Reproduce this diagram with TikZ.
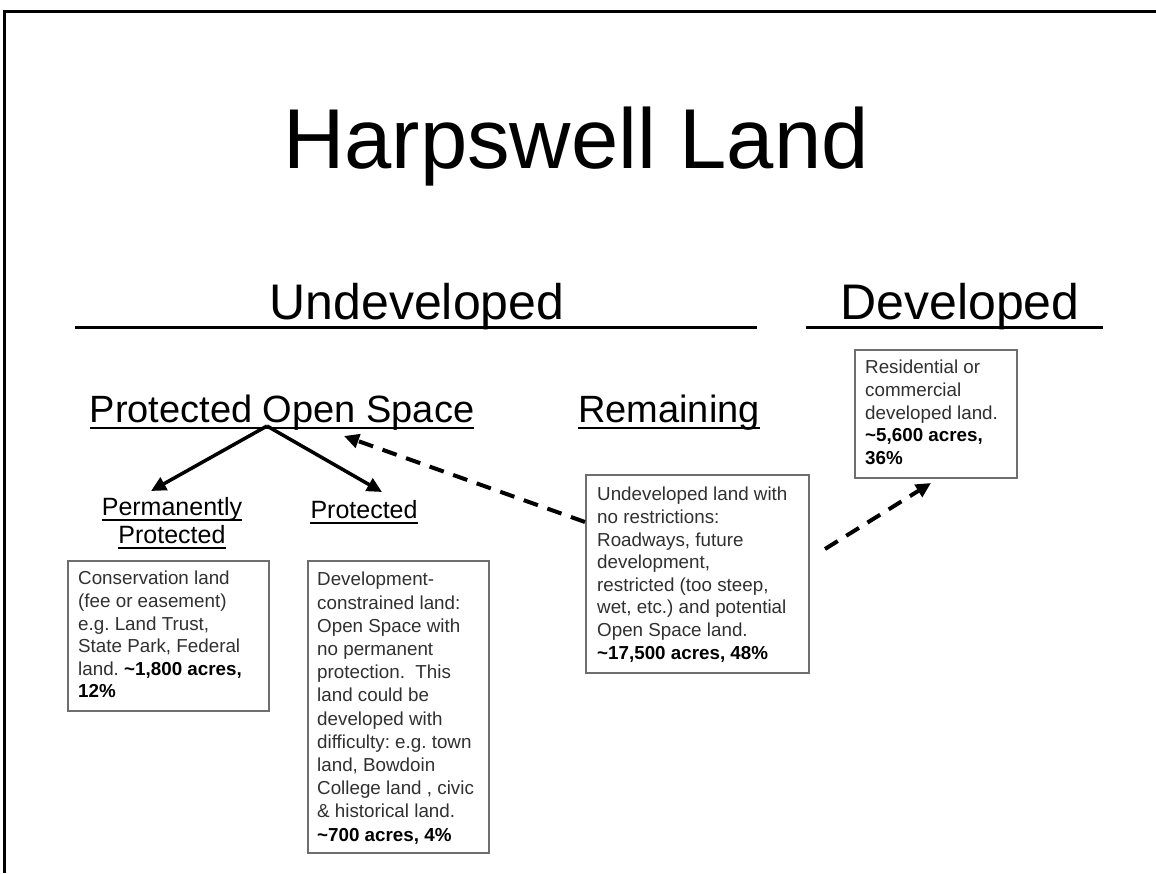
\documentclass[tikz,border=0pt]{standalone}
\usepackage{fontspec}
\setmainfont{Liberation Sans}
\usetikzlibrary{arrows.meta}
\definecolor{boxgray}{HTML}{6E6E6E}
\definecolor{txtgray}{HTML}{303030}
\tikzset{
  titletext/.style={inner sep=0pt, anchor=base, font=\fontsize{85}{90}\selectfont},
  bigtext/.style={inner sep=0pt, anchor=base, font=\fontsize{50}{55}\selectfont},
  midtext/.style={inner sep=0pt, anchor=base, font=\fontsize{38}{42}\selectfont},
  smalltext/.style={inner sep=0pt, anchor=base, font=\fontsize{25}{28}\selectfont},
  infobox/.style={draw=boxgray, line width=1.6pt, anchor=north west, inner sep=0pt},
  boxtext/.style={inner sep=0pt, anchor=north west, align=left, text=txtgray,
    font=\fontsize{18.8}{22.6}\selectfont\frenchspacing},
  sectionrule/.style={line width=3pt},
  uline/.style={line width=2pt},
  framerule/.style={line width=3pt},
  solidarrow/.style={line width=3.5pt, -{Triangle[length=15pt,width=14pt]}},
  dasharrow/.style={line width=4pt, dash pattern=on 15pt off 10pt, -{Triangle[length=15pt,width=14pt]}}
}
\newcommand{\bt}[1]{\textbf{\color{black}#1}}
\begin{document}
\begin{tikzpicture}[x=1pt,y=-1pt]
\fill[white] (0,0) rectangle (1156,873);
\useasboundingbox (0,0) rectangle (1156,873);
% frame
\coordinate (fA) at (4,873);
\coordinate (fB) at (4,11);
\coordinate (fC) at (1156,11);
\draw[framerule] (fA) -- (fB) -- (fC);

% title
\node[titletext] (title) at (576,168) {Harpswell Land};

% section headings
\node[bigtext] (undev) at (417,319) {Undeveloped};
\node[bigtext] (dev) at (960,319) {Developed};
\coordinate (uL) at (75,327);
\coordinate (uR) at (757,327);
\coordinate (dL) at (806,327);
\coordinate (dR) at (1103,327);
\draw[sectionrule] (uL) -- (uR);
\draw[sectionrule] (dL) -- (dR);

% sub headings
\node[midtext] (pos) at (282,422) {Protected Open Space};
\node[midtext] (rem) at (669,422) {Remaining};
\draw[uline] ([yshift=-6pt]pos.base west) -- ([yshift=-6pt]pos.base east);
\draw[uline] ([yshift=-6pt]rem.base west) -- ([yshift=-6pt]rem.base east);

\node[smalltext] (perm1) at (172,515) {Permanently};
\node[smalltext] (perm2) at (172,543) {Protected};
\node[smalltext] (prot) at (364,518) {Protected};
\draw[uline] ([yshift=-5pt]perm1.base west) -- ([yshift=-5pt]perm1.base east);
\draw[uline] ([yshift=-5pt]perm2.base west) -- ([yshift=-5pt]perm2.base east);
\draw[uline] ([yshift=-5pt]prot.base west) -- ([yshift=-5pt]prot.base east);

% boxes
\node[infobox, minimum width=201pt, minimum height=150pt] (b1) at (67,560) {};
\node[infobox, minimum width=181pt, minimum height=292pt] (b2) at (307,560) {};
\node[infobox, minimum width=223pt, minimum height=198pt] (b3) at (585,474) {};
\node[infobox, minimum width=162pt, minimum height=128pt] (b4) at (854,349) {};

\node[boxtext] (t1) at ([xshift=11pt,yshift=-11pt]b1.north west) {Conservation land\\(fee or easement)\\e.g. Land Trust,\\State Park, Federal\\land. \bt{\textasciitilde 1,800 acres,}\\\bt{12\%}};
\node[boxtext, font=\fontsize{18.8}{23.2}\selectfont\frenchspacing] (t2) at ([xshift=10pt,yshift=-12pt]b2.north west) {Development-\\constrained land:\\Open Space with\\no permanent\\protection.~ This\\land could be\\developed with\\difficulty: e.g. town\\land, Bowdoin\\College land , civic\\\& historical land.\\\bt{\textasciitilde 700 acres, 4\%}};
\node[boxtext] (t3) at ([xshift=12pt,yshift=-13pt]b3.north west) {Undeveloped land with\\no restrictions:\\Roadways, future\\development,\\restricted (too steep,\\wet, etc.) and potential\\Open Space land.\\\bt{\textasciitilde 17,500 acres, 48\%}};
\node[boxtext] (t4) at ([xshift=11pt,yshift=-11pt]b4.north west) {Residential or\\commercial\\developed land.\\\bt{\textasciitilde 5,600 acres,}\\\bt{36\%}};

% arrows
\coordinate (apex) at (267,426);
\coordinate (tipPerm) at (151,491);
\coordinate (tipProt) at (382,492);
\draw[solidarrow] (apex) -- (tipPerm);
\draw[solidarrow] (apex) -- (tipProt);
\coordinate (remTail) at (585,522);
\coordinate (posTip) at (344,436);
\draw[dasharrow] (remTail) -- (posTip);
\coordinate (devTail) at (825,549);
\coordinate (devTip) at (931,483);
\draw[dasharrow] (devTail) -- (devTip);
\end{tikzpicture}
\end{document}
